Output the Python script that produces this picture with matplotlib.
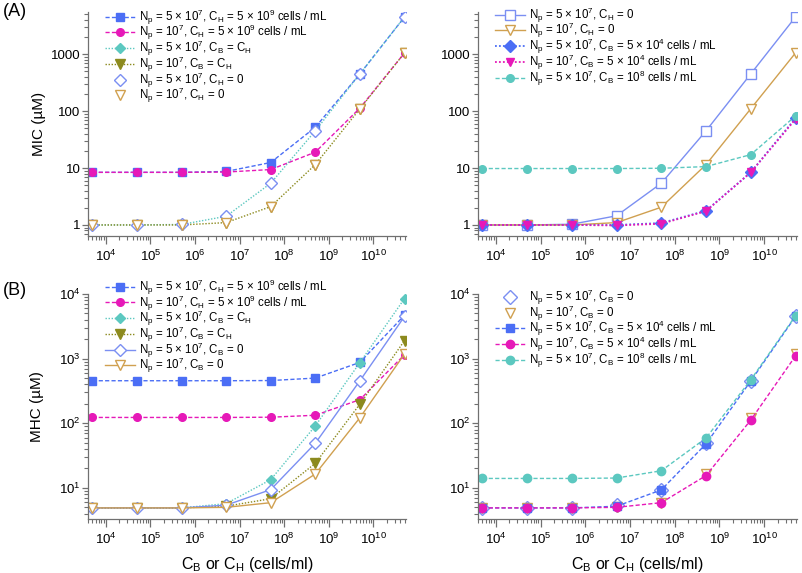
import matplotlib

matplotlib.use("Agg")
import matplotlib.pyplot as plt
from matplotlib.ticker import FuncFormatter, LogLocator, NullFormatter

# cell concentration, C_B or C_H (cells/ml)
conc = [5e3, 5e4, 5e5, 5e6, 5e7, 5e8, 5e9, 5e10]

# (A) left: MIC (uM)
mic_np5_ch5e9 = [8.4, 8.4, 8.4, 8.7, 12.5, 52, 450, 4500]
mic_np1_ch5e9 = [8.4, 8.4, 8.4, 8.5, 9.4, 19, 113, 1050]
mic_np5_cbch = [1.0, 1.0, 1.02, 1.42, 5.4, 45, 450, 4500]
mic_np1_cbch = [1.0, 1.0, 1.0, 1.1, 2.1, 11.5, 110, 1050]
mic_np5_ch0 = [1.0, 1.0, 1.03, 1.45, 5.4, 45, 450, 4500]
mic_np1_ch0 = [1.0, 1.0, 1.0, 1.1, 2.05, 11.5, 110, 1050]

# (A) right: MIC (uM)
mic_np5_cb5e4 = [1.0, 1.0, 1.0, 1.0, 1.08, 1.78, 8.4, 75]
mic_np1_cb5e4 = [1.0, 1.0, 1.0, 0.98, 1.05, 1.75, 8.4, 72]
mic_np5_cb1e8 = [9.8, 9.8, 9.8, 9.8, 9.9, 10.6, 17.2, 82]

# (B) left: MHC (uM)
mhc_np5_ch5e9 = [455, 455, 455, 455, 458, 500, 875, 4700]
mhc_np1_ch5e9 = [123, 123, 123, 123, 124, 133, 232, 1150]
mhc_np5_cbch = [4.9, 4.9, 4.9, 5.7, 13.4, 91, 870, 8500]
mhc_np1_cbch = [4.9, 4.9, 4.9, 5.2, 6.8, 24, 198, 1900]
mhc_np5_cb0 = [4.9, 4.9, 4.9, 5.4, 9.4, 49, 455, 4500]
mhc_np1_cb0 = [4.9, 4.9, 4.9, 5.0, 5.9, 16.4, 122, 1180]

# (B) right: MHC (uM)
mhc_np5_cb5e4 = [4.9, 4.9, 4.9, 5.2, 9.3, 48, 450, 4500]
mhc_np1_cb5e4 = [4.9, 4.9, 4.9, 5.0, 5.9, 15.5, 112, 1100]
mhc_np5_cb1e8 = [14.0, 14.0, 14.0, 14.2, 18.4, 59, 470, 4600]

BLUE = "#4b6ef5"
MAGENTA = "#e619b8"
CYAN = "#5cc8c0"
OLIVE = "#8c8a1e"
LBLUE = "#7b8ff2"
TAN = "#d0a050"
GREY = "#707070"

DASH = (0, (3, 1.6))
DOT = (0, (1, 1.2))

plt.rcParams["font.family"] = ["Liberation Sans", "DejaVu Sans"]
plt.rcParams["mathtext.default"] = "regular"

fig = plt.figure(figsize=(8.03, 5.73), dpi=100)
W, H = 803, 573


def add_ax(x0, y0, x1, y1):
    return fig.add_axes([x0 / W, 1 - y1 / H, (x1 - x0) / W, (y1 - y0) / H])


ax_tl = add_ax(88, 12, 406, 236)
ax_tr = add_ax(478, 12, 797, 236)
ax_bl = add_ax(88, 294, 406, 519)
ax_br = add_ax(478, 294, 797, 519)


def style(ax, ylim, plain):
    ax.set_xscale("log")
    ax.set_yscale("log")
    ax.set_xlim(4.0e3, 5.4e10)
    ax.set_ylim(*ylim)
    for s in ("top", "right"):
        ax.spines[s].set_visible(False)
    for s in ("left", "bottom"):
        ax.spines[s].set_color(GREY)
        ax.spines[s].set_linewidth(0.9)
    ax.xaxis.set_major_locator(LogLocator(base=10, numticks=20))
    ax.xaxis.set_minor_locator(LogLocator(base=10, subs=range(2, 10), numticks=20))
    ax.xaxis.set_minor_formatter(NullFormatter())
    ax.yaxis.set_minor_locator(LogLocator(base=10, subs=range(2, 10), numticks=20))
    ax.yaxis.set_minor_formatter(NullFormatter())
    if plain:
        ax.yaxis.set_major_formatter(FuncFormatter(lambda v, p: f"{v:g}"))
    ax.tick_params(which="major", width=0.9, color=GREY, labelsize=9.5)
    ax.tick_params(which="minor", length=2.6, width=0.8, color=GREY)
    ax.tick_params(axis="x", which="major", length=6, pad=3)
    ax.tick_params(axis="y", which="major", length=4, pad=1.5)


def series(ax, y, color, marker, ls="none", filled=True, ms=6, lw=1.0, label=None):
    ax.plot(conc, y, ls=ls, color=color, lw=lw, marker=marker, ms=ms,
            mfc=color if filled else "white", mec=color, mew=1.0, label=label)


def legend(ax, ytop):
    ax.legend(loc="upper left", bbox_to_anchor=(0.053, ytop), frameon=False,
              fontsize=8.3, handlelength=2.6, handletextpad=0.4,
              labelspacing=-0.3, borderaxespad=0, borderpad=0)


# (A) left
series(ax_tl, mic_np5_ch5e9, BLUE, "s", DASH, ms=6,
       label=r"N$_p$ = 5 × 10$^7$, C$_H$ = 5 × 10$^9$ cells / mL")
series(ax_tl, mic_np1_ch5e9, MAGENTA, "o", DASH, ms=5.5,
       label=r"N$_p$ = 10$^7$, C$_H$ = 5 × 10$^9$ cells / mL")
series(ax_tl, mic_np5_cbch, CYAN, "D", DOT, ms=5.5,
       label=r"N$_p$ = 5 × 10$^7$, C$_B$ = C$_H$")
series(ax_tl, mic_np1_cbch, OLIVE, "v", DOT, ms=6.5,
       label=r"N$_p$ = 10$^7$, C$_B$ = C$_H$")
series(ax_tl, mic_np5_ch0, LBLUE, "D", filled=False, ms=6.5,
       label=r"N$_p$ = 5 × 10$^7$, C$_H$ = 0")
series(ax_tl, mic_np1_ch0, TAN, "v", filled=False, ms=7,
       label=r"N$_p$ = 10$^7$, C$_H$ = 0")
style(ax_tl, (0.64, 5500), True)
ax_tl.set_ylabel("MIC (µM)", fontsize=11)
ax_tl.yaxis.set_label_coords(-0.132, 0.5)
legend(ax_tl, 1.020)

# (A) right
series(ax_tr, mic_np5_ch0, LBLUE, "s", "-", filled=False, ms=6.5,
       label=r"N$_p$ = 5 × 10$^7$, C$_H$ = 0")
series(ax_tr, mic_np1_ch0, TAN, "v", "-", filled=False, ms=7,
       label=r"N$_p$ = 10$^7$, C$_H$ = 0")
series(ax_tr, mic_np5_cb5e4, BLUE, "D", DOT, ms=6, lw=1.3,
       label=r"N$_p$ = 5 × 10$^7$, C$_B$ = 5 × 10$^4$ cells / mL")
series(ax_tr, mic_np1_cb5e4, MAGENTA, "v", DOT, ms=6, lw=1.3,
       label=r"N$_p$ = 10$^7$, C$_B$ = 5 × 10$^4$ cells / mL")
series(ax_tr, mic_np5_cb1e8, CYAN, "o", DASH, ms=5.5,
       label=r"N$_p$ = 5 × 10$^7$, C$_B$ = 10$^8$ cells / mL")
style(ax_tr, (0.64, 5500), True)
legend(ax_tr, 1.029)

# (B) left
series(ax_bl, mhc_np5_ch5e9, BLUE, "s", DASH, ms=6,
       label=r"N$_p$ = 5 × 10$^7$, C$_H$ = 5 × 10$^9$ cells / mL")
series(ax_bl, mhc_np1_ch5e9, MAGENTA, "o", DASH, ms=5.5,
       label=r"N$_p$ = 10$^7$, C$_H$ = 5 × 10$^9$ cells / mL")
series(ax_bl, mhc_np5_cbch, CYAN, "D", DOT, ms=5.5,
       label=r"N$_p$ = 5 × 10$^7$, C$_B$ = C$_H$")
series(ax_bl, mhc_np1_cbch, OLIVE, "v", DOT, ms=6.5,
       label=r"N$_p$ = 10$^7$, C$_B$ = C$_H$")
series(ax_bl, mhc_np5_cb0, LBLUE, "D", "-", filled=False, ms=6.5,
       label=r"N$_p$ = 5 × 10$^7$, C$_B$ = 0")
series(ax_bl, mhc_np1_cb0, TAN, "v", "-", filled=False, ms=7,
       label=r"N$_p$ = 10$^7$, C$_B$ = 0")
style(ax_bl, (3.3, 1e4), False)
ax_bl.set_ylabel("MHC (µM)", fontsize=11)
ax_bl.yaxis.set_label_coords(-0.138, 0.5)
ax_bl.set_xlabel(r"C$_B$ or C$_H$ (cells/ml)", fontsize=11.5, labelpad=6)
legend(ax_bl, 1.073)

# (B) right
series(ax_br, mhc_np5_cb0, LBLUE, "D", filled=False, ms=7,
       label=r"N$_p$ = 5 × 10$^7$, C$_B$ = 0")
series(ax_br, mhc_np1_cb0, TAN, "v", filled=False, ms=7,
       label=r"N$_p$ = 10$^7$, C$_B$ = 0")
series(ax_br, mhc_np5_cb5e4, BLUE, "s", DASH, ms=6,
       label=r"N$_p$ = 5 × 10$^7$, C$_B$ = 5 × 10$^4$ cells / mL")
series(ax_br, mhc_np1_cb5e4, MAGENTA, "o", DASH, ms=6,
       label=r"N$_p$ = 10$^7$, C$_B$ = 5 × 10$^4$ cells / mL")
series(ax_br, mhc_np5_cb1e8, CYAN, "o", DASH, ms=6,
       label=r"N$_p$ = 5 × 10$^7$, C$_B$ = 10$^8$ cells / mL")
style(ax_br, (3.3, 1e4), False)
ax_br.set_xlabel(r"C$_B$ or C$_H$ (cells/ml)", fontsize=11.5, labelpad=6)
legend(ax_br, 1.028)

fig.text(3 / W, 1 - 12 / H, "(A)", fontsize=13, va="center")
fig.text(3 / W, 1 - 290 / H, "(B)", fontsize=13, va="center")

fig.savefig("out.png", dpi=100)
